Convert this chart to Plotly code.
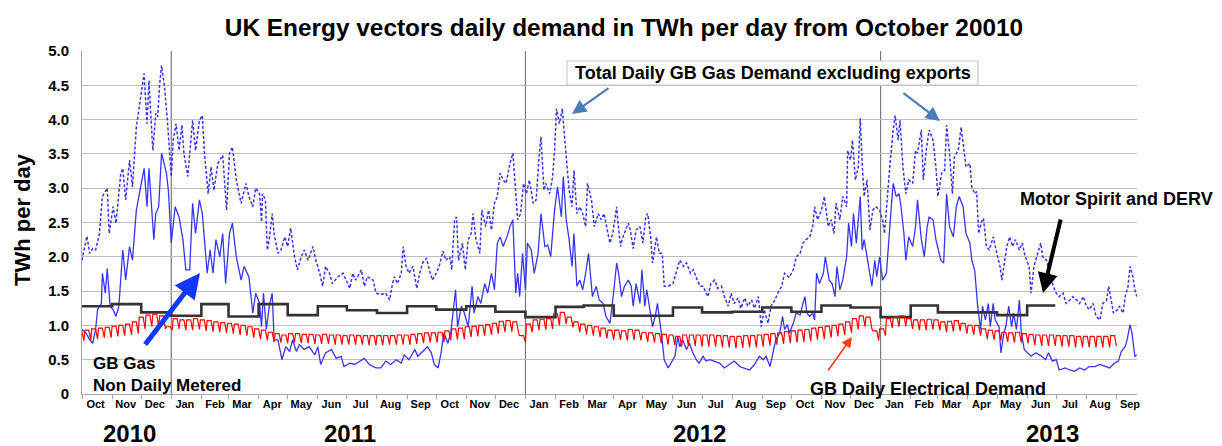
import pandas as pd
import plotly.graph_objects as go

START = pd.Timestamp("2010-10-01")

# (days since 1 Oct 2010, TWh/day)
gas_total = [
    (0,1.95),(5,2.30),(8,2.05),(11,2.12),(14,2.10),(18,2.34),(21,2.88),(26,3.00),(28,2.34),(32,2.73),(35,2.49),
    (40,3.22),(42,3.29),(45,2.83),(49,3.41),(52,3.02),(56,3.89),(59,4.19),(64,4.67),(67,3.94),(69,4.57),(71,4.04),
    (73,3.55),(76,4.09),(78,4.04),(80,4.52),(82,4.79),(85,4.48),(88,3.99),(92,3.17),(94,3.70),(97,3.94),(100,3.55),
    (103,3.92),(105,3.51),(109,3.17),(114,3.99),(117,3.55),(121,3.99),(124,4.06),(126,3.55),(130,2.92),(133,3.31),
    (136,2.97),(140,3.36),(145,3.48),(149,2.68),(152,3.51),(155,3.60),(159,3.12),(164,2.78),(169,3.07),
    (172,2.88),(176,2.73),(179,3.00),(183,2.92),(185,2.51),(186,2.92),(189,2.83),(191,2.10),(193,2.25),(196,2.63),
    (198,2.34),(202,2.05),(205,2.10),(209,2.29),(212,2.15),(215,2.42),(219,2.00),(222,1.81),(226,2.00),(229,2.10),
    (233,1.95),(238,2.15),(241,1.95),(245,1.76),(248,1.57),(251,1.86),(255,1.76),(258,1.61),(264,1.71),(269,1.76),
    (272,1.66),(276,1.54),(279,1.76),(282,1.66),(288,1.81),(291,1.57),(294,1.71),(300,1.66),(303,1.47),(308,1.45),
    (313,1.47),(317,1.37),(320,1.61),(322,1.71),(325,1.61),(329,1.76),(331,2.15),(334,1.86),(337,1.76),(341,1.86),
    (345,1.54),(348,1.76),(351,1.91),(355,1.98),
    (358,1.81),(361,1.66),(365,1.76),(368,1.86),(372,2.08),(375,1.95),(379,2.00),(381,1.81),(384,2.54),(386,2.58),
    (388,1.95),(392,2.20),(395,1.81),(398,2.25),(401,2.34),(403,2.63),(406,2.25),(410,2.05),(412,2.68),(416,2.44),
    (419,2.68),(422,2.39),(425,2.78),(428,2.88),(431,3.22),(434,3.12),(437,3.07),(441,3.36),(444,3.51),(447,2.83),
    (449,2.54),(452,2.63),(455,3.07),(458,2.92),(461,3.12),(465,2.78),(468,2.83),(471,3.46),(473,3.75),(476,2.97),
    (478,3.07),(482,2.92),(485,3.17),(487,3.55),(489,4.16),(492,3.94),(495,4.16),(497,3.80),(500,3.31),(502,2.97),
    (505,2.73),(507,3.26),(510,2.63),(513,2.73),(516,2.63),(519,2.44),(521,3.07),(525,2.83),(528,2.44),(532,2.63),
    (535,2.54),(538,2.63),(542,2.34),
    (544,2.20),(547,2.34),(551,2.73),(552,2.54),(555,2.15),(557,2.27),(563,2.49),(565,2.39),(568,2.12),(571,2.39),
    (575,2.44),(578,2.20),(581,2.58),(583,2.63),(586,2.29),(588,1.91),(592,2.29),(595,2.05),(598,2.05),(600,1.57),
    (604,1.57),(609,1.61),(612,1.76),(616,1.95),(620,1.86),(623,1.91),(627,1.76),(630,1.81),(634,1.66),(637,1.57),
    (640,1.57),(645,1.42),(648,1.61),(652,1.66),(655,1.54),(659,1.57),(662,1.42),(666,1.28),(669,1.47),(672,1.32),
    (676,1.40),(679,1.25),(683,1.40),(686,1.28),(690,1.37),(693,1.25),(697,1.42),(700,0.98),(703,1.23),(707,1.03),
    (710,1.28),(714,1.37),(717,1.47),(721,1.57),(724,1.76),
    (729,1.70),(733,1.81),(736,2.00),(740,2.05),(743,2.20),(746,2.25),(750,2.29),(753,2.44),(755,2.73),(758,2.54),
    (762,2.68),(765,2.88),(769,2.44),(772,2.54),(775,2.34),(777,2.78),(781,2.54),(784,2.88),(788,2.73),(789,3.55),
    (792,3.41),(794,3.70),(797,3.12),(800,3.31),(802,4.02),(804,3.36),(806,2.88),(809,3.12),(812,2.39),(815,2.68),
    (818,2.73),(822,2.68),(825,2.54),(827,2.34),(831,3.12),(833,3.41),(836,3.85),(838,4.06),(841,3.70),(843,3.99),
    (846,3.31),(849,2.92),(852,3.12),(856,3.07),(859,3.55),(861,3.51),(865,3.85),(867,3.12),(870,3.55),(873,3.85),
    (877,3.70),(880,3.31),(882,2.88),(886,3.22),(889,3.26),(891,3.92),(894,3.51),(897,2.92),(899,3.46),(903,3.55),
    (906,3.89),(909,3.51),(911,3.31),
    (915,3.36),(917,3.02),(920,2.92),(922,2.95),(924,2.34),(927,2.51),(929,2.56),(932,2.15),(935,2.10),(939,2.29),
    (942,2.10),(946,1.86),(948,1.66),(951,1.95),(953,2.15),(956,2.29),(959,2.15),(962,2.25),(966,2.10),(969,2.20),
    (972,2.00),(976,1.86),(978,1.47),(981,1.86),(983,1.95),(988,2.20),(990,2.00),(994,1.95),(997,1.76),(1001,1.57),
    (1004,1.47),(1007,1.42),(1011,1.47),(1014,1.32),(1018,1.37),(1021,1.42),(1025,1.37),(1028,1.32),(1032,1.42),
    (1035,1.28),(1038,1.23),(1042,1.32),(1045,1.13),(1049,1.08),(1052,1.32),(1056,1.37),(1058,1.57),(1061,1.32),
    (1063,1.18),(1067,1.23),(1069,1.28),(1073,1.18),(1075,1.42),(1078,1.57),(1080,1.86),(1083,1.71),(1085,1.52),
    (1087,1.42),
]

gas_ndm = [
    (0,0.94),(4,0.89),(8,0.79),(11,0.74),(14,0.94),(16,1.23),(20,1.32),(21,1.76),(24,1.47),(26,1.83),(29,1.28),
    (32,1.23),(35,1.13),(38,1.28),(42,2.10),(45,1.66),(49,2.15),(52,1.95),(56,2.68),(61,3.07),(64,3.29),(67,2.73),
    (69,3.29),(74,2.25),(76,2.63),(79,2.73),(82,3.51),(87,3.22),(89,2.97),(92,2.20),(96,2.73),(100,2.58),(104,2.25),
    (107,1.81),(111,1.81),(114,2.78),(117,2.34),(121,2.83),(124,2.63),(129,1.76),(132,2.10),(135,1.76),(138,2.25),
    (142,2.00),(145,2.34),(148,1.61),(152,2.34),(155,2.49),(159,2.00),(164,1.66),(167,1.86),(172,1.71),
    (176,1.18),(179,1.47),(183,1.32),(185,0.98),(187,1.47),(190,0.94),(193,1.28),(196,1.47),(198,0.79),(202,0.79),
    (206,0.50),(210,0.69),(214,0.62),(217,0.79),(221,0.62),(224,0.72),(229,0.65),(234,0.69),(240,0.57),(243,0.69),
    (246,0.43),(251,0.60),(257,0.65),(262,0.52),(267,0.55),(270,0.40),(276,0.45),(281,0.43),(286,0.48),(291,0.52),
    (296,0.43),(303,0.38),(308,0.38),(313,0.48),(318,0.43),(324,0.50),(329,0.45),(332,0.57),(337,0.50),(343,0.65),
    (346,0.55),(351,0.62),(356,0.69),(360,0.60),(363,0.43),(367,0.38),
    (370,0.60),(373,0.89),(377,0.74),(380,0.89),(385,1.52),(387,0.98),(391,1.28),(394,1.18),(398,0.98),(402,1.57),
    (404,1.18),(408,1.42),(411,1.32),(415,1.61),(418,1.47),(422,1.76),(425,1.52),(428,2.20),(431,2.29),(434,2.15),
    (438,2.29),(441,2.44),(444,2.54),(447,1.47),(449,1.76),(451,1.42),(454,2.05),(457,1.52),(459,2.20),(463,2.10),
    (466,1.76),(470,2.05),(473,2.63),(477,2.15),(480,2.17),(483,2.00),(487,2.68),(490,3.02),(494,2.58),(496,3.17),
    (499,2.54),(502,2.25),(505,1.86),(507,2.34),(510,1.57),(513,1.66),(516,1.52),(519,1.76),(522,2.05),(526,1.42),
    (530,1.57),(533,1.37),(537,1.32),(540,1.13),
    (544,1.03),(547,1.37),(551,1.91),(553,1.76),(556,1.42),(559,1.57),(563,1.66),(566,1.57),(568,1.28),(571,1.61),
    (575,1.32),(577,1.81),(580,1.28),(582,1.52),(585,1.28),(588,0.98),(591,1.15),(593,1.32),(597,0.89),(600,0.50),
    (604,0.38),(607,0.45),(611,0.55),(614,0.84),(616,0.69),(619,0.79),(623,0.65),(626,0.74),(629,0.62),(633,0.50),
    (636,0.45),(640,0.55),(643,0.48),(647,0.50),(652,0.48),(657,0.45),(662,0.38),(667,0.43),(672,0.48),(678,0.40),
    (683,0.38),(688,0.35),(693,0.43),(698,0.55),(702,0.50),(705,0.55),(709,0.40),(712,0.60),(715,0.79),(719,0.89),
    (722,1.13),(724,0.94),(727,1.01),
    (729,0.89),(733,1.03),(736,1.18),(740,1.15),(743,1.32),(745,1.42),(747,1.18),(750,1.13),(753,1.18),(755,1.08),
    (757,1.76),(760,1.61),(764,1.76),(766,2.00),(770,1.66),(773,1.61),(776,1.42),(778,1.86),(781,1.52),(784,1.66),
    (788,2.00),(790,2.49),(793,2.15),(795,2.63),(798,2.20),(802,2.88),(804,2.10),(806,2.25),(809,2.00),(812,1.76),
    (814,1.57),(817,1.95),(819,1.71),(822,2.00),(825,1.66),(829,1.76),(832,2.44),(834,2.73),(836,3.07),(839,2.88),
    (842,2.92),(844,2.73),(847,2.34),(849,1.95),(852,2.29),(856,2.15),(859,2.44),(861,2.83),(865,2.25),(868,2.00),
    (871,2.44),(873,2.58),(877,2.54),(880,2.25),(885,1.95),(888,1.91),(891,2.92),(894,2.44),(898,2.29),(901,2.73),
    (904,2.88),(908,2.73),(911,2.34),(915,2.20),
    (917,1.95),(920,1.80),(923,1.28),(926,0.94),(928,1.28),(931,1.08),(934,1.32),(936,0.98),(939,1.32),(941,1.08),
    (945,0.98),(947,0.60),(950,0.89),(952,0.98),(955,1.28),(958,0.98),(960,1.18),(963,0.94),(966,1.37),(968,0.89),
    (971,0.65),(975,0.60),(978,0.55),(983,0.60),(989,0.55),(993,0.50),(996,0.60),(1000,0.48),(1004,0.50),
    (1007,0.35),(1013,0.38),(1018,0.35),(1023,0.33),(1028,0.38),(1033,0.35),(1038,0.40),(1044,0.40),(1049,0.43),
    (1054,0.40),(1059,0.38),(1064,0.45),(1068,0.48),(1071,0.62),(1075,0.69),(1077,0.79),(1080,1.01),(1082,0.89),
    (1085,0.55),(1087,0.57),
]

# Motor spirit and DERV: monthly level, Oct 2010 .. Jun 2013
motor_first_month = "2010-10-01"
motor_twh = [1.28, 1.31, 1.19,
             1.14, 1.31, 1.13, 1.31, 1.15, 1.28, 1.22, 1.18, 1.28, 1.23, 1.28, 1.20,
             1.12, 1.27, 1.29, 1.14, 1.14, 1.26, 1.19, 1.20, 1.26, 1.20, 1.29, 1.26,
             1.12, 1.29, 1.19, 1.19, 1.15, 1.29]

# GB daily electrical demand: weekly weekday level and weekend level (weeks from Mon 27 Sep 2010)
elec_first_monday = "2010-09-27"
elec_weekday = [
    0.90,0.93,0.95,0.96,0.97,0.99,1.00,1.02,1.05,1.12,1.15,1.16,1.14,0.98,
    1.10,1.08,1.08,1.10,1.08, 1.07,1.05,1.04,1.03, 1.02,1.00,0.98,0.95, 0.93,0.90,0.88,0.86,
    0.88,0.88,0.87,0.87,0.86, 0.87,0.86,0.86,0.85, 0.86,0.85,0.85,0.85, 0.85,0.85,0.85,0.86,0.86,
    0.87,0.88,0.89,0.89, 0.90,0.92,0.95,0.96,0.98, 0.99,1.00,1.01,1.03, 1.06,1.07,1.05,0.85,
    1.02,1.08,1.09,1.10,1.17, 1.19,1.12,1.05,1.02, 1.00,0.98,0.96,0.93, 0.93,0.92,0.94,0.93,0.90,
    0.89,0.88,0.87,0.86, 0.84,0.86,0.86,0.86, 0.86,0.86,0.85,0.85,0.84, 0.84,0.85,0.85,0.86,
    0.87,0.88,0.89,0.91, 0.92,0.93,0.94,0.96,0.97, 0.99,1.00,1.02,1.05, 1.10,1.14,1.12,0.92,0.95,
    1.10,1.12,1.14,1.10, 1.08,1.08,1.09,1.08, 1.05,1.06,1.07,1.03, 1.00,1.00,0.95,0.93,0.92,
    0.90,0.89,0.90,0.88, 0.87,0.86,0.86,0.86, 0.85,0.85,0.85,0.84,0.84, 0.84,0.84,0.84,0.85,
]
elec_weekend = [
    0.78,0.78,0.80,0.82,0.82,0.84,0.85,0.86,0.88,0.95,0.98,0.98,0.95,0.93,
    0.95,0.93,0.93,0.94,0.92, 0.91,0.90,0.89,0.88, 0.86,0.85,0.82,0.80, 0.78,0.76,0.75,0.74,
    0.75,0.74,0.74,0.73,0.73, 0.73,0.72,0.72,0.72, 0.72,0.72,0.71,0.71, 0.71,0.72,0.72,0.72,0.72,
    0.73,0.74,0.75,0.75, 0.76,0.78,0.79,0.80,0.83, 0.84,0.85,0.86,0.88, 0.90,0.91,0.88,0.75,
    0.90,0.93,0.94,0.95,1.00, 1.02,0.97,0.90,0.87, 0.85,0.83,0.81,0.79, 0.79,0.78,0.79,0.78,0.76,
    0.75,0.74,0.72,0.71, 0.69,0.70,0.70,0.69, 0.69,0.69,0.68,0.68,0.67, 0.67,0.68,0.68,0.69,
    0.71,0.72,0.73,0.74, 0.75,0.76,0.77,0.79,0.80, 0.82,0.84,0.86,0.89, 0.94,0.98,0.95,0.78,0.85,
    0.96,0.98,0.99,0.95, 0.93,0.93,0.94,0.93, 0.90,0.91,0.92,0.88, 0.86,0.85,0.80,0.79,0.78,
    0.76,0.75,0.75,0.74, 0.71,0.70,0.70,0.70, 0.69,0.69,0.68,0.68,0.68, 0.68,0.68,0.68,0.70,
]

year_labels = ["2010", "2011", "2012", "2013"]
year_label_dates = ["2010-11-19", "2011-07-04", "2012-06-28", "2013-06-27"]
year_boundaries = ["2011-01-01", "2012-01-01", "2013-01-01"]

# ---------------------------------------------------------------
def to_dates(days):
    return [START + pd.Timedelta(days=d) for d in days]

tot_d, tot_v = zip(*gas_total)
ndm_d, ndm_v = zip(*gas_ndm)

motor_x = list(pd.date_range(motor_first_month, periods=len(motor_twh), freq="MS"))
motor_x.append(pd.Timestamp("2013-06-30"))
motor_y = list(motor_twh) + [motor_twh[-1]]

el_x, el_y = [], []
mon0 = pd.Timestamp(elec_first_monday)
for i, (hi, lo) in enumerate(zip(elec_weekday, elec_weekend)):
    m = mon0 + pd.Timedelta(weeks=i)
    el_x += [m, m + pd.Timedelta(days=4), m + pd.Timedelta(days=6)]
    el_y += [hi, hi, lo]

month_starts = pd.date_range("2010-10-01", "2013-09-01", freq="MS")
month_mid = [d + pd.Timedelta(days=14) for d in month_starts]
month_text = [d.strftime("%b") for d in month_starts]

FONT = "Liberation Sans, Arial, sans-serif"
BLUE = "#3636f2"

fig = go.Figure()
fig.add_trace(go.Scatter(x=to_dates(tot_d), y=tot_v, mode="lines",
                         line=dict(color=BLUE, width=1.5, dash="3px,2px"), name="Total"))
fig.add_trace(go.Scatter(x=to_dates(ndm_d), y=ndm_v, mode="lines",
                         line=dict(color=BLUE, width=1.3), name="NDM"))
fig.add_trace(go.Scatter(x=motor_x, y=motor_y, mode="lines", line_shape="hv",
                         line=dict(color="#333333", width=2.6), name="Motor"))
fig.add_trace(go.Scatter(x=el_x, y=el_y, mode="lines",
                         line=dict(color="#ff0000", width=1.2), name="Elec"))

L, R, T, B = 82, 1137, 51, 394
W, H = R - L, B - T
def pxx(x): return (x - L) / W
def pxy(y): return (B - y) / H

shapes = []
for yb in year_boundaries:
    shapes.append(dict(type="line", xref="x", yref="paper", x0=yb, x1=yb, y0=0, y1=1,
                       line=dict(color="#7a7a7a", width=1.2), layer="below"))
shapes.append(dict(type="rect", xref="paper", yref="paper",
                   x0=pxx(567), x1=pxx(978), y0=pxy(85), y1=pxy(61),
                   fillcolor="white", line=dict(color="#c8c8c8", width=1.2), layer="above"))

bold = lambda s: "<b>" + s + "</b>"
ann = []
ann.append(dict(text=bold("Total Daily GB Gas Demand excluding exports"), xref="paper", yref="paper",
                x=pxx(772.5), y=pxy(73), xanchor="center", yanchor="middle", showarrow=False,
                font=dict(family=FONT, size=18, color="black")))
ann.append(dict(text=bold("Motor Spirit and DERV"), xref="paper", yref="paper",
                x=pxx(1018), y=pxy(199), xanchor="left", yanchor="middle", showarrow=False,
                font=dict(family=FONT, size=18, color="black")))
ann.append(dict(text=bold("GB Gas") + "<br>" + bold("Non Daily Metered"), xref="paper", yref="paper",
                x=pxx(91), y=pxy(374), xanchor="left", yanchor="middle", align="left", showarrow=False,
                font=dict(family=FONT, size=17, color="black")))
ann.append(dict(text=bold("GB Daily Electrical Demand"), xref="paper", yref="paper",
                x=pxx(808), y=pxy(389), xanchor="left", yanchor="middle", showarrow=False,
                font=dict(family=FONT, size=18, color="black")))
ann.append(dict(text=bold("TWh per day"), xref="paper", yref="paper",
                x=pxx(22), y=pxy(220), xanchor="center", yanchor="middle", textangle=-90, showarrow=False,
                font=dict(family=FONT, size=22, color="black")))

def arrow(head, tail, color, width, size=1.0):
    return dict(text="", xref="paper", yref="paper", x=pxx(head[0]), y=pxy(head[1]),
                ax=tail[0] - head[0], ay=tail[1] - head[1], showarrow=True,
                arrowhead=2, arrowsize=size, arrowwidth=width, arrowcolor=color, standoff=0)

ann.append(arrow((572, 114), (610, 87), "#4a7ebb", 2.2, 1.3))
ann.append(arrow((940, 121), (902, 92), "#4a7ebb", 2.2, 1.3))
ann.append(arrow((1043, 293), (1061, 218), "black", 4, 1.0))
ann.append(arrow((200, 273), (144, 346), "#1238ff", 5, 1.0))
ann.append(arrow((852, 337), (827, 372), "#ff3c14", 1.6, 1.3))

for lab, d in zip(year_labels, year_label_dates):
    ann.append(dict(text=bold(lab), xref="x", yref="paper", x=d, y=0, yshift=-39,
                    xanchor="center", yanchor="middle", showarrow=False,
                    font=dict(family=FONT, size=24, color="black")))

fig.update_layout(
    width=1222, height=446,
    margin=dict(l=L, r=1222 - R, t=T, b=446 - B),
    paper_bgcolor="white", plot_bgcolor="white",
    showlegend=False,
    title=dict(text=bold("UK Energy vectors daily demand in TWh per day from October 20010"),
               xref="container", yref="container", x=624 / 1222, y=1 - 27 / 446,
               xanchor="center", yanchor="middle",
               font=dict(family=FONT, size=24.4, color="black")),
    shapes=shapes, annotations=ann,
    xaxis=dict(type="date", range=[START, pd.Timestamp("2013-09-22 05:00")],
               tickmode="array", tickvals=month_mid, ticktext=[bold(t) for t in month_text],
               ticks="", showgrid=False, zeroline=False, showline=True,
               linecolor="#a6a6a6", linewidth=1,
               tickfont=dict(family=FONT, size=11, color="black"),
               minor=dict(tickmode="array", tickvals=list(month_starts), ticks="outside",
                          ticklen=4, tickcolor="#a6a6a6", showgrid=False)),
    yaxis=dict(range=[0, 5], tickmode="array",
               tickvals=[0, 0.5, 1, 1.5, 2, 2.5, 3, 3.5, 4, 4.5, 5],
               ticktext=[bold(t) for t in ["0", "0.5", "1.0", "1.5", "2.0", "2.5", "3.0", "3.5", "4.0", "4.5", "5.0"]],
               showgrid=True, gridcolor="#bdbdbd", gridwidth=1, zeroline=False,
               showline=True, linecolor="#a6a6a6", linewidth=1, ticks="",
               ticklabelstandoff=9,
               tickfont=dict(family=FONT, size=15, color="black")),
)

fig.write_html("out.html", config={"displayModeBar": False},
               post_script="document.body.style.margin='0px';")
